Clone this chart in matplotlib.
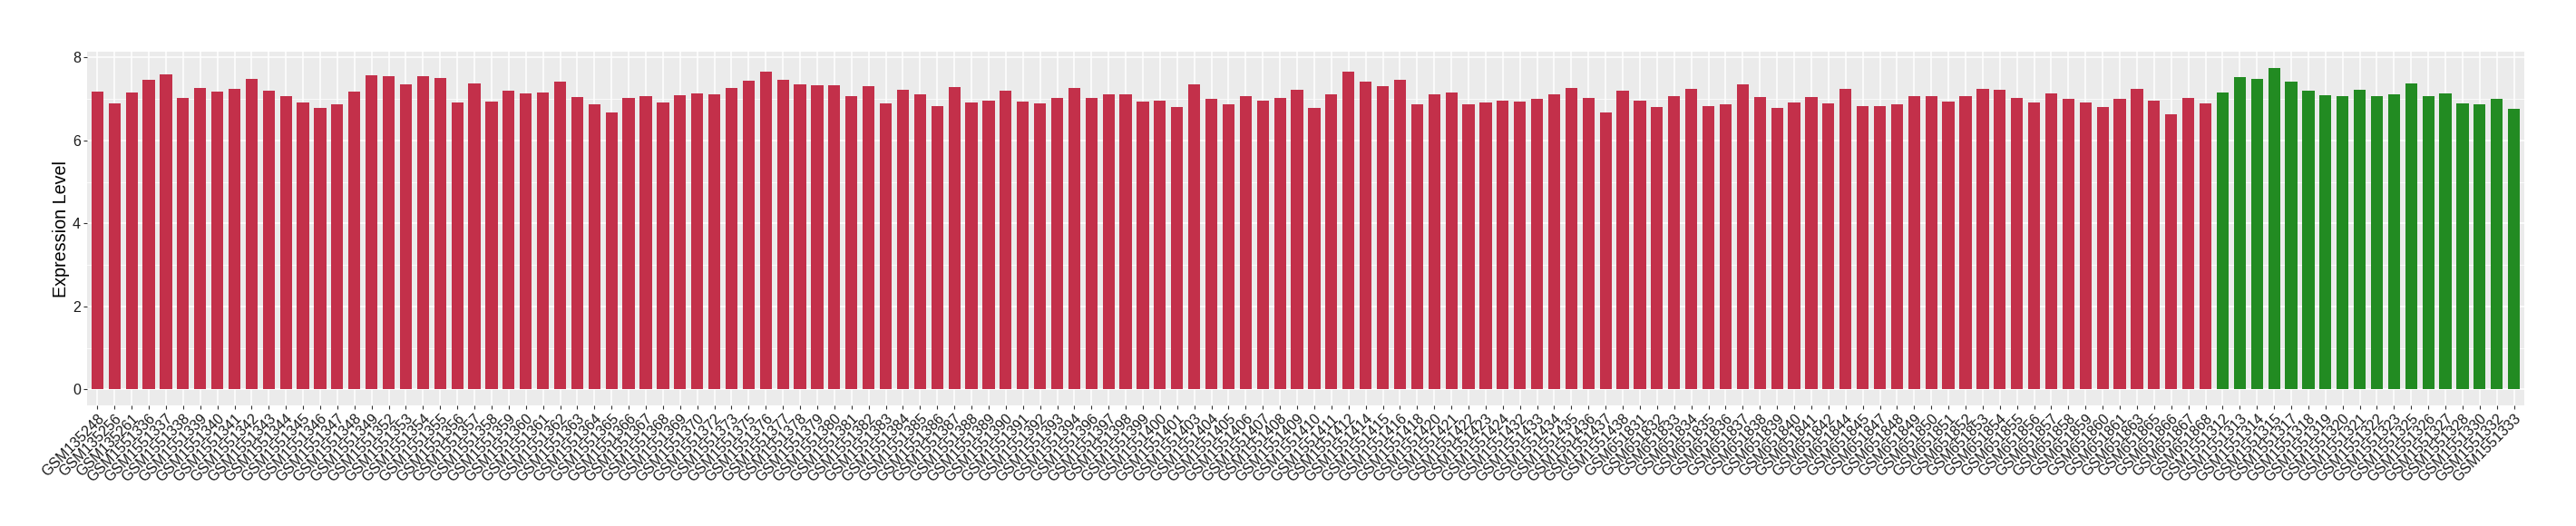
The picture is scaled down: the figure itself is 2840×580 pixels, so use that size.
import matplotlib
matplotlib.use("Agg")
import matplotlib.pyplot as plt
from matplotlib.ticker import MultipleLocator

plt.rcParams["font.family"] = ["Liberation Sans", "DejaVu Sans"]

samples = [
    "GSM135248", "GSM135256", "GSM135261",
    "GSM1551336", "GSM1551337", "GSM1551338", "GSM1551339", "GSM1551340",
    "GSM1551341", "GSM1551342", "GSM1551343", "GSM1551344", "GSM1551345",
    "GSM1551346", "GSM1551347", "GSM1551348", "GSM1551349", "GSM1551352",
    "GSM1551353", "GSM1551354", "GSM1551355", "GSM1551356", "GSM1551357",
    "GSM1551358", "GSM1551359", "GSM1551360", "GSM1551361", "GSM1551362",
    "GSM1551363", "GSM1551364", "GSM1551365", "GSM1551366", "GSM1551367",
    "GSM1551368", "GSM1551369", "GSM1551370", "GSM1551372", "GSM1551373",
    "GSM1551375", "GSM1551376", "GSM1551377", "GSM1551378", "GSM1551379",
    "GSM1551380", "GSM1551381", "GSM1551382", "GSM1551383", "GSM1551384",
    "GSM1551385", "GSM1551386", "GSM1551387", "GSM1551388", "GSM1551389",
    "GSM1551390", "GSM1551391", "GSM1551392", "GSM1551393", "GSM1551394",
    "GSM1551396", "GSM1551397", "GSM1551398", "GSM1551399", "GSM1551400",
    "GSM1551401", "GSM1551403", "GSM1551404", "GSM1551405", "GSM1551406",
    "GSM1551407", "GSM1551408", "GSM1551409", "GSM1551410", "GSM1551411",
    "GSM1551412", "GSM1551414", "GSM1551415", "GSM1551416", "GSM1551418",
    "GSM1551420", "GSM1551421", "GSM1551422", "GSM1551423", "GSM1551424",
    "GSM1551432", "GSM1551433", "GSM1551434", "GSM1551435", "GSM1551436",
    "GSM1551437", "GSM1551438",
    "GSM651831", "GSM651832", "GSM651833", "GSM651834", "GSM651835",
    "GSM651836", "GSM651837", "GSM651838", "GSM651839", "GSM651840",
    "GSM651841", "GSM651842", "GSM651844", "GSM651845", "GSM651847",
    "GSM651848", "GSM651849", "GSM651850", "GSM651851", "GSM651852",
    "GSM651853", "GSM651854", "GSM651855", "GSM651856", "GSM651857",
    "GSM651858", "GSM651859", "GSM651860", "GSM651861", "GSM651863",
    "GSM651865", "GSM651866", "GSM651867", "GSM651868",
    "GSM1551312", "GSM1551313", "GSM1551314", "GSM1551315", "GSM1551317",
    "GSM1551318", "GSM1551319", "GSM1551320", "GSM1551321", "GSM1551322",
    "GSM1551323", "GSM1551325", "GSM1551326", "GSM1551327", "GSM1551328",
    "GSM1551330", "GSM1551332", "GSM1551333",
]

expression = [
    7.18, 6.90, 7.16, 7.46, 7.59, 7.03, 7.27, 7.18, 7.25, 7.49,
    7.20, 7.07, 6.92, 6.79, 6.88, 7.18, 7.57, 7.55, 7.36, 7.55,
    7.51, 6.92, 7.38, 6.94, 7.20, 7.14, 7.16, 7.42, 7.05, 6.86,
    6.68, 7.03, 7.07, 6.92, 7.09, 7.14, 7.12, 7.27, 7.44, 7.66,
    7.46, 7.36, 7.33, 7.33, 7.07, 7.31, 6.90, 7.22, 7.12, 6.83,
    7.29, 6.92, 6.96, 7.20, 6.94, 6.90, 7.03, 7.27, 7.03, 7.12,
    7.12, 6.94, 6.96, 6.81, 7.36, 7.01, 6.88, 7.07, 6.96, 7.03,
    7.22, 6.79, 7.12, 7.66, 7.42, 7.31, 7.46, 6.86, 7.12, 7.16,
    6.86, 6.92, 6.96, 6.94, 7.01, 7.12, 7.27, 7.03, 6.68, 7.20,
    6.96, 6.81, 7.07, 7.25, 6.83, 6.86, 7.36, 7.05, 6.79, 6.92,
    7.05, 6.90, 7.25, 6.83, 6.83, 6.88, 7.07, 7.07, 6.94, 7.07,
    7.25, 7.22, 7.03, 6.92, 7.14, 6.99, 6.92, 6.81, 6.99, 7.25,
    6.96, 6.64, 7.03, 6.90,
    7.16, 7.53, 7.49, 7.75, 7.42, 7.20, 7.09, 7.07, 7.22, 7.07,
    7.12, 7.38, 7.07, 7.14, 6.90, 6.86, 7.01, 6.75,
]

groups = ["tumor"] * 124 + ["normal"] * 18
group_colors = {"tumor": "#C3304A", "normal": "#228B22"}

W, H = 2840, 580
fig = plt.figure(figsize=(W / 100, H / 100), dpi=100)
# panel box in pixels: left 96, right 2783, top 57, bottom 447
ax = fig.add_axes([96 / W, (H - 447) / H, (2783 - 96) / W, (447 - 57) / H])
ax.set_facecolor("#EBEBEB")

x = list(range(len(samples)))
ax.bar(x, expression, width=0.7, color=[group_colors[g] for g in groups], zorder=3)

top = max(expression)
ax.set_xlim(-0.6, len(samples) - 0.4)
ax.set_ylim(-0.05 * top, 1.05 * top)

ax.set_yticks([0, 2, 4, 6, 8])
ax.yaxis.set_minor_locator(MultipleLocator(1))
ax.set_xticks(x)
ax.set_xticklabels(samples, rotation=45, ha="right", va="top", rotation_mode="anchor")

ax.grid(which="major", color="white", linewidth=1.1, zorder=0)
ax.grid(which="minor", axis="y", color="white", linewidth=0.55, zorder=0)
ax.set_axisbelow(True)
for s in ax.spines.values():
    s.set_visible(False)

ax.tick_params(axis="both", which="major", length=3, width=0.8, color="#333333",
               labelsize=11.5, labelcolor="#1A1A1A", pad=2)
ax.tick_params(axis="y", which="minor", length=0)

fig.text(67.5 / W, 1 - 252 / H, "Expression Level", rotation=90,
         ha="center", va="center", fontsize=14.2, color="black")

fig.savefig("out.png", dpi=100)
